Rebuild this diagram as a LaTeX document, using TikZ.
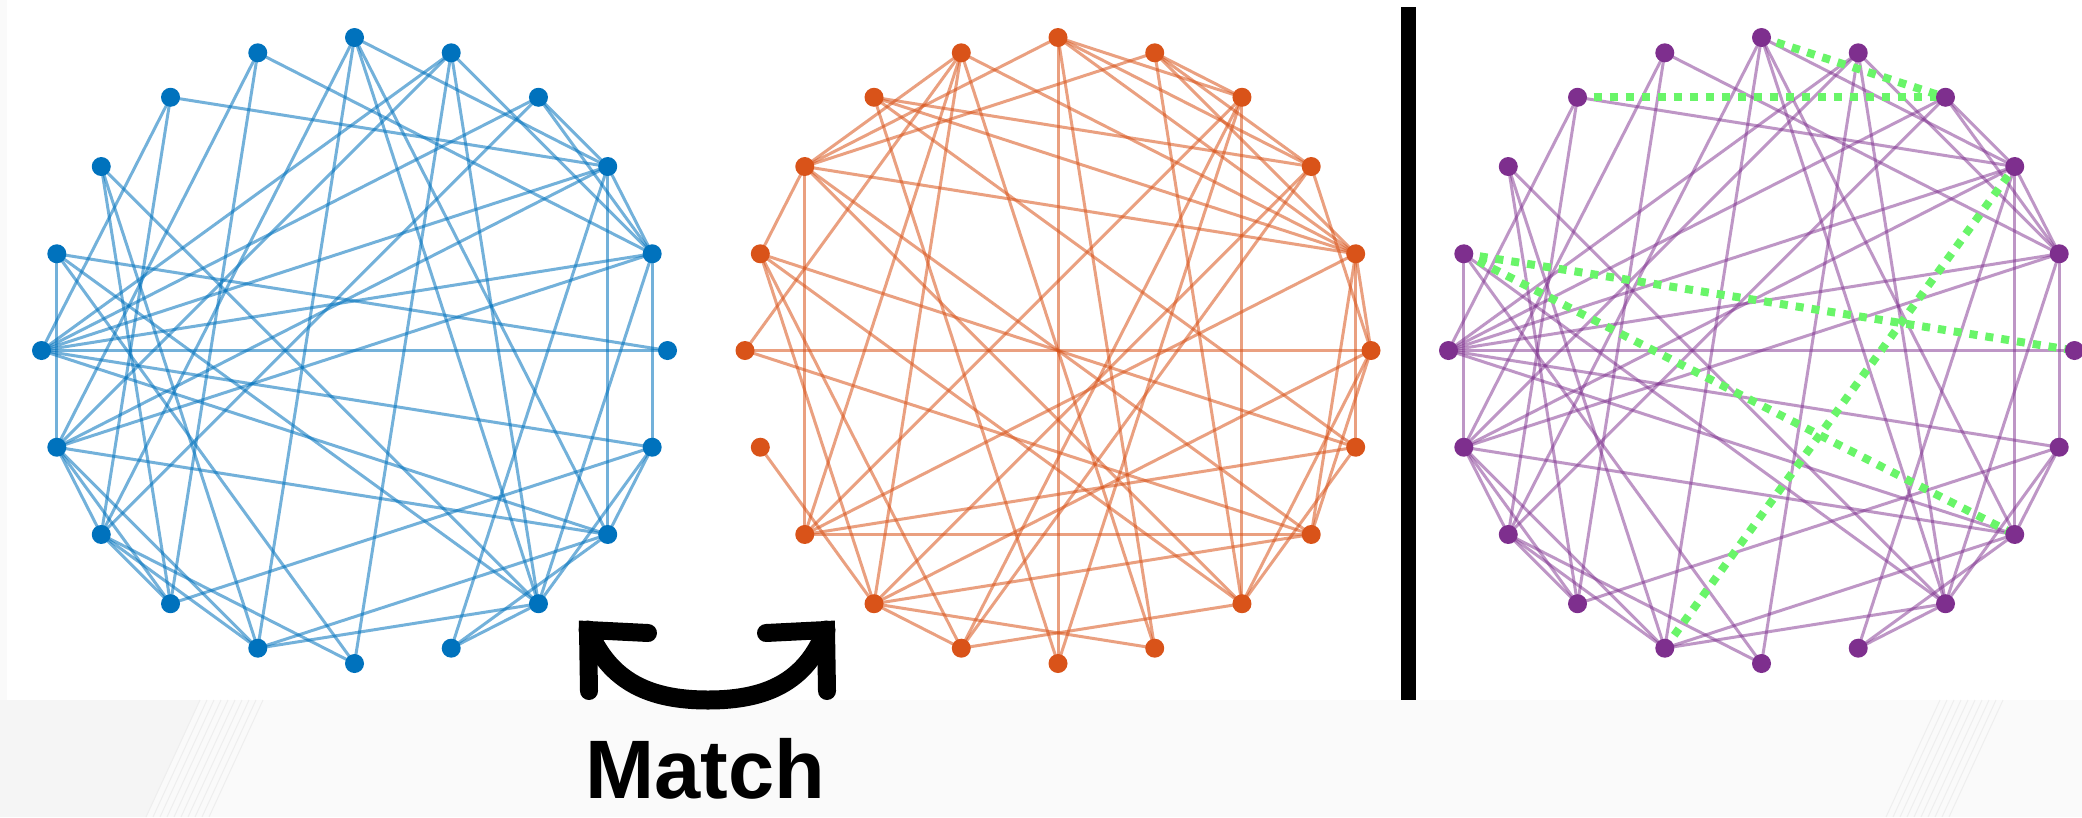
\documentclass[tikz,border=0pt]{standalone}
\usepackage{fontspec}
\newfontfamily\matchfont{Liberation Sans}
\definecolor{mblue}{RGB}{0,114,189}
\definecolor{morange}{RGB}{217,83,25}
\definecolor{mpurple}{RGB}{126,47,142}
\definecolor{mgreen}{RGB}{105,245,105}
\definecolor{bgray}{RGB}{250,250,250}
\definecolor{dgray}{RGB}{245,245,245}
\definecolor{hatch}{RGB}{238,238,238}
\begin{document}
\begin{tikzpicture}[x=1pt,y=-1pt,
  bedge/.style={draw=mblue,line width=3pt,opacity=0.55},
  oedge/.style={draw=morange,line width=3pt,opacity=0.55},
  pedge/.style={draw=mpurple,line width=3pt,opacity=0.5},
  gedge/.style={draw=mgreen,line width=8pt,dash pattern=on 8pt off 8pt},
  dot/.style={circle,inner sep=0pt,minimum size=19pt},
  bdot/.style={dot,fill=mblue},
  odot/.style={dot,fill=morange},
  pdot/.style={dot,fill=mpurple},
  arrowline/.style={draw=black,line width=18pt,line cap=round,line join=miter}]
% background
\fill[bgray] (0,0) rectangle (2082,817);
\fill[dgray] (0,700) -- (200,700) -- (146,817) -- (0,817) -- cycle;
\fill[white] (7,0) rectangle (2082,700);
\foreach \i in {0,...,9}{
  \draw[hatch,line width=1pt] ({146+7*\i},817) -- ({200+7*\i},700);
  \draw[hatch,line width=1pt] ({1886+7*\i},817) -- ({1940+7*\i},700);
}
\useasboundingbox (0,0) rectangle (2082,817);
% node positions
\foreach \k in {0,...,19}{
  \coordinate (b\k) at ({354.5+313*cos(90-18*\k)},{350.5-313*sin(90-18*\k)});
  \coordinate (o\k) at ({1058+313*cos(90-18*\k)},{350.5-313*sin(90-18*\k)});
  \coordinate (p\k) at ({1761.5+313*cos(90-18*\k)},{350.5-313*sin(90-18*\k)});
}
\def\blueedges{0/3,0/7,0/8,0/11,0/13,1/4,1/8,1/10,1/14,1/15,2/3,2/4,2/13,2/15,3/4,3/7,3/9,3/14,3/15,3/18,4/6,4/8,4/14,4/15,4/19,5/15,5/16,6/7,6/8,6/12,6/15,7/9,7/11,7/14,7/15,8/9,8/11,8/16,8/17,10/13,10/16,11/13,11/14,11/17,12/13,12/14,12/17,12/19,13/14,13/18,14/16,14/19,15/18}
\def\orangeedges{0/10,0/17,0/2,0/3,0/4,0/9,1/17,1/2,1/3,1/4,1/8,2/8,2/13,2/11,2/10,3/18,3/11,3/12,3/5,4/6,4/13,4/17,4/18,4/19,4/5,4/7,5/15,5/7,5/8,5/12,6/16,6/13,6/18,6/8,7/17,7/13,7/15,7/12,8/17,8/11,8/16,9/19,9/12,10/18,11/12,11/16,12/14,12/16,12/19,13/17,13/19,15/19,16/17,17/19}
\def\purpleedges{0/3,0/7,0/8,0/11,0/13,1/4,1/8,1/10,1/14,1/15,2/3,2/4,2/13,2/15,3/4,3/7,3/9,3/14,3/15,3/18,4/6,4/8,4/14,4/15,4/19,5/15,6/7,6/8,6/12,6/15,7/9,7/11,7/14,7/15,8/9,8/11,8/16,8/17,10/13,10/16,11/13,11/14,11/17,12/13,12/14,12/17,12/19,13/14,13/18,14/16,14/19,15/18}
\foreach \a/\b in \blueedges {\draw[bedge] (b\a) -- (b\b);}
\foreach \a/\b in \orangeedges {\draw[oedge] (o\a) -- (o\b);}
\foreach \a/\b in \purpleedges {\draw[pedge] (p\a) -- (p\b);}
% highlighted edges
\foreach \a/\b in {0/2,18/2,16/5,16/7,11/3} {\draw[gedge] (p\a) -- (p\b);}
% nodes
\foreach \k in {0,...,19}{
  \node[bdot] (bn\k) at (b\k) {};
  \node[odot] (on\k) at (o\k) {};
  \node[pdot] (pn\k) at (p\k) {};
}
% separator bar
\fill[black] (1401,7) rectangle (1416,700);
% swap arrow
\coordinate (la) at (588,630);
\coordinate (ra) at (826,630);
\draw[arrowline] (648,633) -- (la) -- (589,691);
\draw[arrowline] (766,633) -- (ra) -- (827,691);
\draw[draw=black,line width=19pt,line cap=round] (la) .. controls (610,682) and (650,700) .. (708,700) .. controls (766,700) and (806,682) .. (ra);
\node[font=\matchfont\bfseries\fontsize{83pt}{83pt}\selectfont,anchor=base,inner sep=0pt] (match) at (705,798) {Match};
\end{tikzpicture}
\end{document}
